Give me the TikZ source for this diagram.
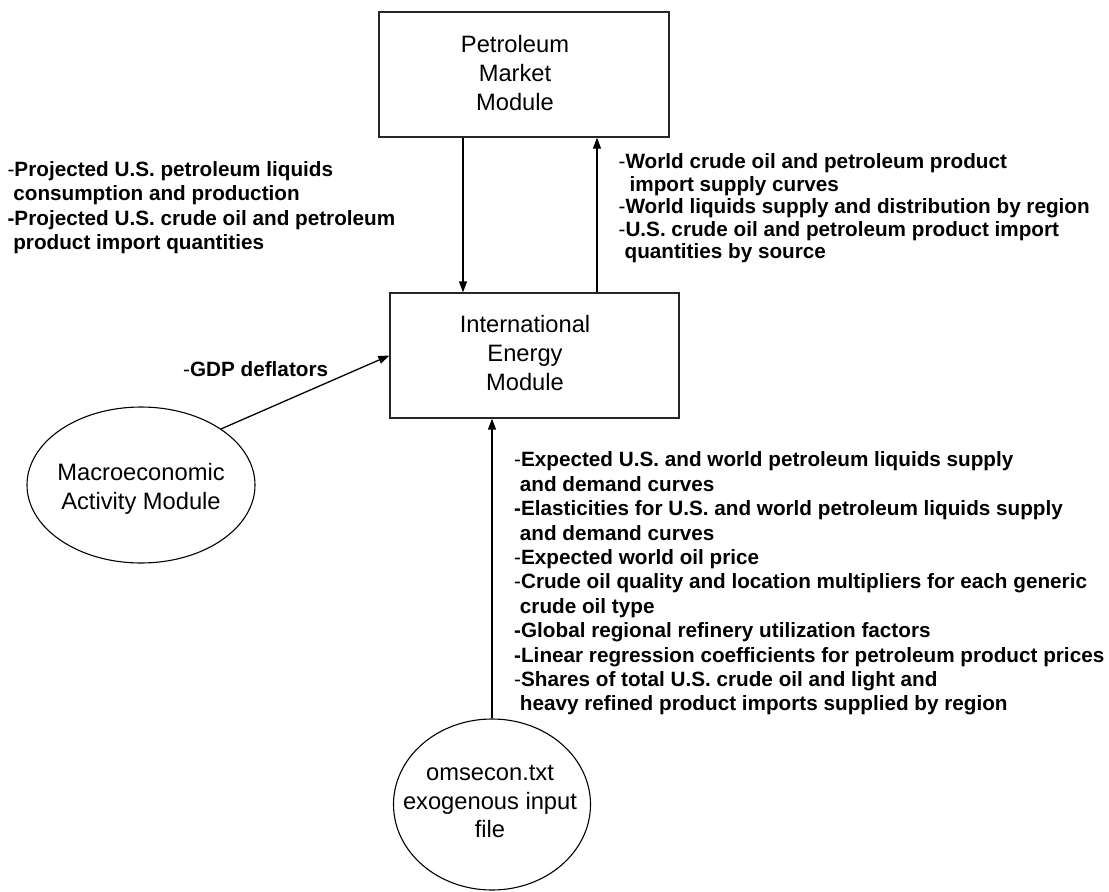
\documentclass[tikz,border=0pt]{standalone}
\usepackage{fontspec}
\setmainfont{Liberation Sans}
\usetikzlibrary{shapes.geometric,arrows.meta}
\newcommand{\lhy}{{\mdseries -}}
\newcommand{\ind}{\hspace*{5.75pt}}
\begin{document}
\begin{tikzpicture}[x=1pt,y=-1pt,
  box/.style={draw=black!85, line width=1.3pt, inner sep=0pt},
  oval/.style={ellipse, draw, line width=1.1pt, inner sep=0pt},
  arr/.style={-{Triangle[length=11pt,width=8pt]}, line width=1.3pt},
  lbl/.style={inner sep=0pt, align=left, anchor=north west, font=\fontsize{20.7}{24.5}\selectfont\bfseries},
  ttl/.style={inner sep=0pt, align=center, anchor=north, font=\fontsize{23.7}{28.8}\selectfont}]
\useasboundingbox (0,0) rectangle (1109,892);
% boxes
\node[box, minimum width=290pt, minimum height=125pt] (pmm) at (524,74.5) {};
\node[box, minimum width=289pt, minimum height=125pt] (iem) at (534.5,355.5) {};
\node[oval, minimum width=228pt, minimum height=156pt] (mam) at (141,485) {};
\node[oval, minimum width=197pt, minimum height=171pt] (oms) at (492,804.5) {};
% box texts
\node[ttl] (pmmt) at (515,34.5) {\rule{0pt}{17.8pt}Petroleum\\Market\\Module};
\node[ttl] (iemt) at (525,314.9) {\rule{0pt}{17.8pt}International\\Energy\\Module};
\node[ttl] (mamt) at (141,462.2) {\rule{0pt}{17.8pt}Macroeconomic\\Activity Module};
\node[ttl] (omst) at (490,762.2) {\rule{0pt}{17.8pt}omsecon.txt\\exogenous input\\file};
% connectors
\coordinate (xd) at (463,0);
\coordinate (xu) at (597,0);
\draw[arr] (pmm.south -| xd) -- (iem.north -| xd);
\draw[arr] (iem.north -| xu) -- (pmm.south -| xu);
\draw[arr] (mam.35) -- (iem.west);
\draw[arr] (oms.north) -- (oms.north |- iem.south);
% labels
\node[lbl] (lbl1) at (7.4,160.5) {\rule{0pt}{15.5pt}\lhy Projected U.S. petroleum liquids\\
\ind consumption and production\\
-Projected U.S. crude oil and petroleum\\
\ind product import quantities};
\node[lbl, font=\fontsize{20.7}{22.5}\selectfont\bfseries] (lbl2) at (618.4,152.8) {\rule{0pt}{15.5pt}\lhy World crude oil and petroleum product\\
\hspace*{11pt}import supply curves\\
\lhy World liquids supply and distribution by region\\
\lhy U.S. crude oil and petroleum product import\\
\hspace*{6pt}quantities by source};
\node[lbl, anchor=base west] (lbl3) at (183,376) {\lhy GDP deflators};
\node[lbl, font=\fontsize{20.7}{24.4}\selectfont\bfseries] (lbl4) at (514,451.2) {\rule{0pt}{15.5pt}\lhy Expected U.S. and world petroleum liquids supply\\
\ind and demand curves\\
-Elasticities for U.S. and world petroleum liquids supply\\
\ind and demand curves\\
\lhy Expected world oil price\\
\lhy Crude oil quality and location multipliers for each generic\\
\ind crude oil type\\
-Global regional refinery utilization factors\\
-Linear regression coefficients for petroleum product prices\\
\lhy Shares of total U.S. crude oil and light and\\
\ind heavy refined product imports supplied by region};
\end{tikzpicture}
\end{document}
